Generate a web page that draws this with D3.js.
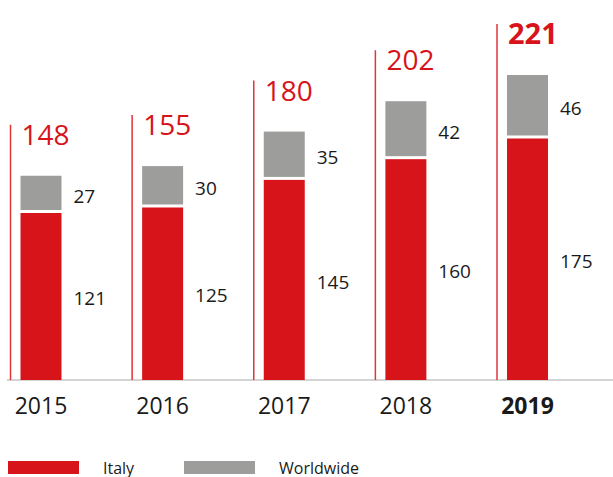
<!DOCTYPE html>
<html>
<head>
<meta charset="utf-8">
<script src="https://cdn.jsdelivr.net/npm/d3@7"></script>
<style>
  body { margin: 0; background: #fff; }
  text { font-family: "Open Sans", "Noto Sans", sans-serif; }
</style>
</head>
<body>
<script>
var years = ["2015", "2016", "2017", "2018", "2019"];
var italy = [121, 125, 145, 160, 175];
var worldwide = [27, 30, 35, 42, 46];
var totals = [148, 155, 180, 202, 221];
var seriesNames = ["Italy", "Worldwide"];

var red = "#d7141a";
var grey = "#9d9d9c";

var width = 613, height = 477;
var baseY = 380;

var svg = d3.select("body").append("svg")
    .attr("width", width)
    .attr("height", height);

var x = d3.scaleBand()
    .domain(years)
    .range([20.5, 548])
    .paddingInner(0.663)
    .paddingOuter(0);

var y = d3.scaleLinear()
    .domain([0, 221])
    .range([baseY, 75]);

// baseline
svg.append("line")
    .attr("x1", 7).attr("x2", width)
    .attr("y1", baseY).attr("y2", baseY)
    .attr("stroke", "#c6c6c6")
    .attr("stroke-width", 1.5);

// grey (worldwide) segments on top
svg.selectAll("rect.ww")
    .data(years)
    .enter()
    .append("rect")
    .attr("class", "ww")
    .attr("x", d => x(d))
    .attr("y", (d, i) => y(totals[i]))
    .attr("width", x.bandwidth())
    .attr("height", (d, i) => y(italy[i]) - y(totals[i]) - 3)
    .attr("fill", grey);

// red (italy) segments
svg.selectAll("rect.it")
    .data(years)
    .enter()
    .append("rect")
    .attr("class", "it")
    .attr("x", d => x(d))
    .attr("y", (d, i) => y(italy[i]))
    .attr("width", x.bandwidth())
    .attr("height", (d, i) => baseY - y(italy[i]))
    .attr("fill", red);

// total labels
var labelOffset = 31;
svg.selectAll("text.total")
    .data(years)
    .enter()
    .append("text")
    .attr("class", "total")
    .attr("x", d => x(d) + 1)
    .attr("y", (d, i) => y(totals[i]) - labelOffset)
    .attr("fill", red)
    .attr("font-size", (d, i) => i === years.length - 1 ? "29px" : "28px")
    .attr("font-weight", (d, i) => i === years.length - 1 ? "bold" : "normal")
    .text((d, i) => totals[i]);

// thin red lines beside each bar
svg.selectAll("line.mark")
    .data(years)
    .enter()
    .append("line")
    .attr("class", "mark")
    .attr("x1", d => x(d) - 10)
    .attr("x2", d => x(d) - 10)
    .attr("y1", baseY)
    .attr("y2", (d, i) => y(totals[i]) - labelOffset - 20)
    .attr("stroke", "#e2343b")
    .attr("stroke-width", 1.5);

// segment values
svg.selectAll("text.wwv")
    .data(years)
    .enter()
    .append("text")
    .attr("x", d => x(d) + x.bandwidth() + 12)
    .attr("y", (d, i) => (y(totals[i]) + y(italy[i])) / 2 + 2)
    .attr("dy", "0.35em")
    .attr("fill", "#1a1a1a")
    .attr("font-size", "19px")
    .text((d, i) => worldwide[i]);

svg.selectAll("text.itv")
    .data(years)
    .enter()
    .append("text")
    .attr("x", d => x(d) + x.bandwidth() + 12)
    .attr("y", (d, i) => (y(italy[i]) + baseY) / 2 + 2)
    .attr("dy", "0.35em")
    .attr("fill", "#1a1a1a")
    .attr("font-size", "19px")
    .text((d, i) => italy[i]);

// year labels
svg.selectAll("text.year")
    .data(years)
    .enter()
    .append("text")
    .attr("x", d => x(d) + x.bandwidth() / 2)
    .attr("y", 414)
    .attr("text-anchor", "middle")
    .attr("fill", "#1a1a1a")
    .attr("font-size", "23px")
    .attr("font-weight", (d, i) => i === years.length - 1 ? "bold" : "normal")
    .text(d => d);

// legend
var legend = svg.append("g");
var legendX = [8, 184];
var legendColors = [red, grey];
seriesNames.forEach(function(name, i) {
    legend.append("rect")
        .attr("x", legendX[i])
        .attr("y", 461)
        .attr("width", 71)
        .attr("height", 13)
        .attr("fill", legendColors[i]);
    legend.append("text")
        .attr("x", legendX[i] + 95)
        .attr("y", 473.5)
        .attr("fill", "#1a1a1a")
        .attr("font-size", "16px")
        .text(name);
});
</script>
</body>
</html>
